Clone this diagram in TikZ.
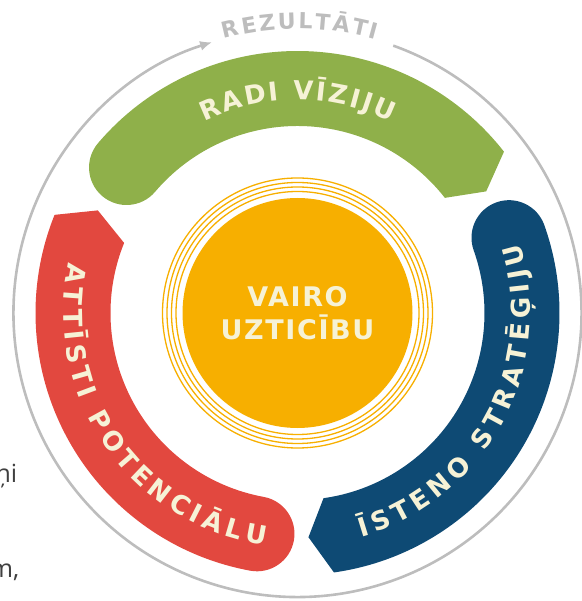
\documentclass[tikz,border=0pt]{standalone}
\usepackage{fontspec}
\usepackage{tikz}
\usetikzlibrary{arrows.meta}
\usetikzlibrary{decorations.text}
\tikzset{>={Latex[width=10pt,length=12pt]}}
\definecolor{visiongreen}{HTML}{8FB04A}
\definecolor{strategyblue}{HTML}{0E4A74}
\definecolor{potentialred}{HTML}{E2483F}
\definecolor{trustorange}{HTML}{F7AF00}
\definecolor{ringgrey}{HTML}{BDBDBD}
\definecolor{labelcream}{HTML}{F6F2D6}
\definecolor{pagetext}{HTML}{404040}
\newfontfamily\labelsans{DejaVu Sans}
\newfontfamily\centersans{DejaVu Sans}[LetterSpace=6]
\newfontfamily\pagesans{Open Sans}
\newcommand\bandfont{\labelsans\bfseries\fontsize{26}{26}\selectfont}
\newcommand\loopfont{\labelsans\bfseries\fontsize{22}{22}\selectfont}
\tikzset{
  halo/.style={draw=trustorange, line width=1.3pt},
  bandlabel/.style={decorate, decoration={text along path,
      text color=labelcream, text align={fit to path}}},
}

\begin{document}
\begin{tikzpicture}[x=1pt,y=1pt]

  \useasboundingbox (-297.5,-288) rectangle (283.5,313);

  \newcommand\Rin{187};
  \newcommand\Rmid{224.5};
  \newcommand\Rout{262};

  % band: colour, start angle (round end); runs clockwise over 101.6 deg
  \newcommand\arcband[2]{%
    \fill[#1] ({#2}:\Rout) arc[start angle=#2, end angle=#2-101.6, radius=\Rout]
    -- ({#2-106.8}:\Rmid) -- ({#2-101.6}:\Rin)
    arc[start angle=#2-101.6, end angle=#2, radius=\Rin]
    arc[start angle=#2+180, end angle=#2, radius=37.5] -- cycle;}

  % results loop
  \draw[->, ringgrey, line width=2.6pt]
  (70.3:284) arc[start angle=70.3, end angle=-252.5, radius=284];
  \path[decorate, decoration={text along path, text color=ringgrey,
      text align={fit to path}, text={|\loopfont|REZULTĀTI}}]
  (105:284) arc[start angle=105, end angle=74, radius=284];

  \arcband{visiongreen}{139.6}
  \arcband{strategyblue}{19.6}
  \arcband{potentialred}{-100.4}

  \path[bandlabel, decoration={text={|\bandfont|RADI VĪZIJU}}]
  (116:213) arc[start angle=116, end angle=64, radius=213];
  \path[bandlabel, decoration={text={|\bandfont|ĪSTENO STRATĒĢIJU}}]
  (-74:233) arc[start angle=-74, end angle=17.5, radius=233];
  \path[bandlabel, decoration={text={|\bandfont|ATTĪSTI POTENCIĀLU}}]
  (167.5:234) arc[start angle=167.5, end angle=262, radius=234];

  % centre
  \draw[halo] (0,0) circle[radius=135];
  \draw[halo] (0,0) circle[radius=130.5];
  \draw[halo] (0,0) circle[radius=126];
  \draw[halo] (0,0) circle[radius=121.5];
  \fill[trustorange] (0,0) circle[radius=115];
  \node[align=center, text=labelcream,
    font=\centersans\bfseries\fontsize{27}{33}\selectfont]
  (trust) at (0,0) {VAIRO\\UZTICĪBU};

  % cut-off words of the page
  \node[anchor=base east, inner sep=0pt, text=pagetext,
    font=\pagesans\fontsize{25}{30}\selectfont] (word1) at (-280,-169) {ņi};
  \node[anchor=base east, inner sep=0pt, text=pagetext,
    font=\pagesans\fontsize{25}{30}\selectfont] (word2) at (-278,-264) {m,};

\end{tikzpicture}
\end{document}
